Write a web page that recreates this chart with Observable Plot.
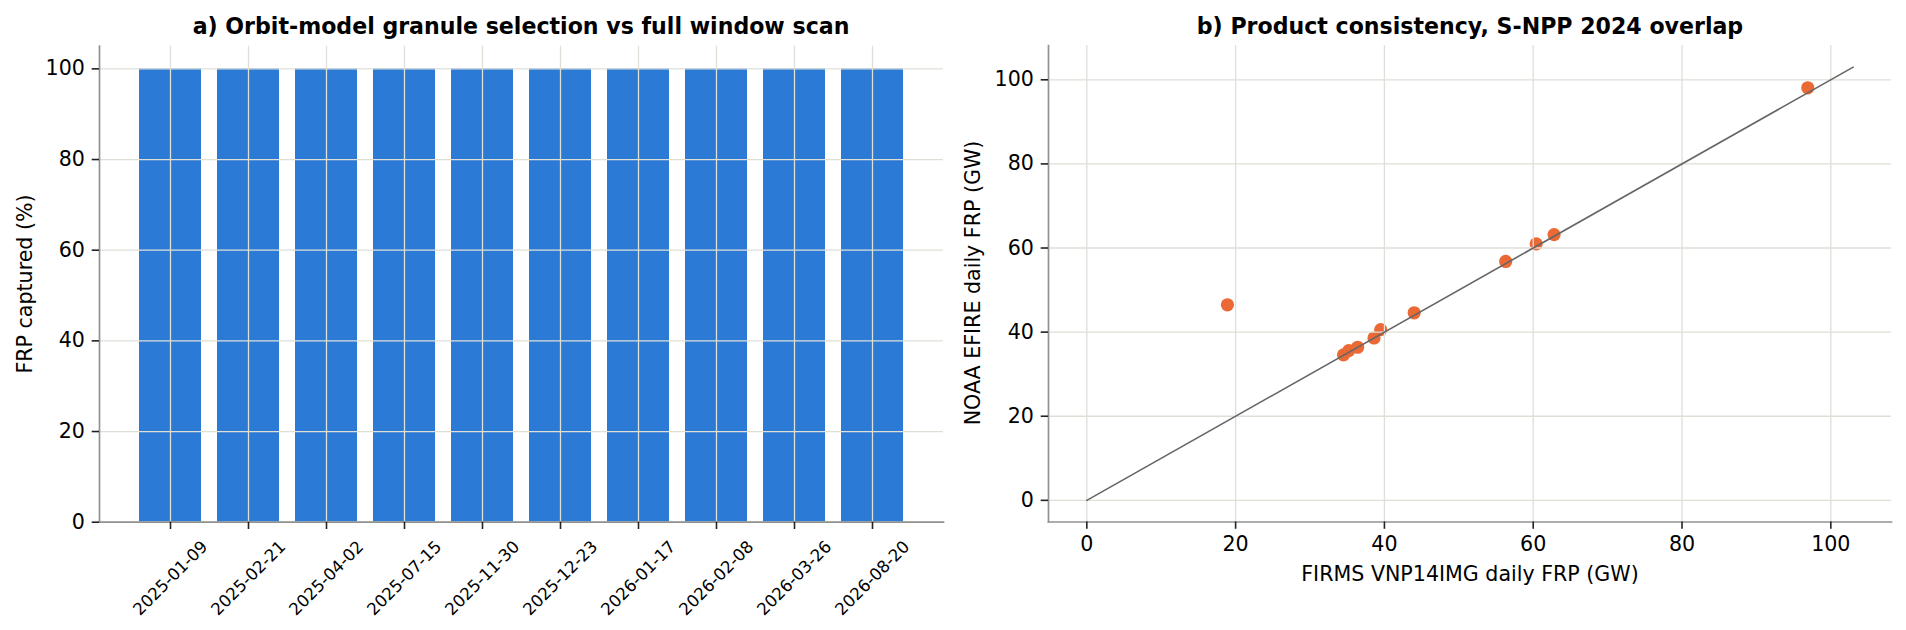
<!DOCTYPE html>
<html><head><meta charset="utf-8">
<script src="https://cdn.jsdelivr.net/npm/d3@7"></script>
<script src="https://cdn.jsdelivr.net/npm/@observablehq/plot@0.6"></script>
<style>
body{margin:0;background:#fff;}
#wrap{position:relative;width:1906px;height:630px;font-family:"DejaVu Sans",sans-serif;color:#000;overflow:hidden;}
.p{position:absolute;top:0;}
.lbl{position:absolute;white-space:nowrap;transform:translate(-50%,-50%);line-height:1;}
.ttl{font-weight:bold;font-size:22.1px;}
.ax{font-size:20.6px;}
.rot{transform:translate(-50%,-50%) rotate(-90deg);}
</style></head><body><div id="wrap"></div>
<script>
// ---- data ----
const dates = ["2025-01-09","2025-02-21","2025-04-02","2025-07-15","2025-11-30","2025-12-23","2026-01-17","2026-02-08","2026-03-26","2026-08-20"];
const captured = [100,100,100,100,100,100,100,100,100,100];
const yTicksA = [0,20,40,60,80,100];
const firms = [18.9, 34.5, 35.2, 36.4, 38.6, 39.5, 44.0, 56.3, 60.4, 62.8, 96.9];
const noaa  = [46.5, 34.6, 35.6, 36.4, 38.6, 40.6, 44.6, 56.8, 61.0, 63.2, 98.1];
const ticksB = [0,20,40,60,80,100];

const gridC = "#dfdfd8", spineC = "#929292", tickC = "#222";
const baseStyle = {fontFamily:"DejaVu Sans", fontSize:"20.6px", color:"#000", background:"transparent", overflow:"visible"};

const barData = dates.map((d,i)=>({date:d, pct:captured[i]}));
const left = Plot.plot({
  width:953, height:630,
  marginLeft:99, marginRight:10, marginTop:45.7, marginBottom:108.3,
  style: baseStyle,
  x:{type:"band", domain:dates, paddingInner:0.2, paddingOuter:0.49, align:0.5},
  y:{domain:[0,105]},
  marks:[
    Plot.barY(barData, {x:"date", y:"pct", fill:"#2b7ad6"}),
    Plot.gridX({stroke:gridC, strokeOpacity:1, strokeWidth:1.3}),
    Plot.gridY(yTicksA, {stroke:gridC, strokeOpacity:1, strokeWidth:1.3}),
    Plot.frame({anchor:"left", stroke:spineC, strokeWidth:1.7}),
    Plot.frame({anchor:"bottom", stroke:spineC, strokeWidth:1.7}),
    Plot.axisY(yTicksA, {tickSize:7.3, tickPadding:7.3, stroke:tickC, strokeWidth:1.6, label:null}),
    Plot.axisX({tickSize:7.3, tickFormat:()=>"", stroke:tickC, strokeWidth:1.6, label:null}),
    Plot.text(dates, {x:d=>d, frameAnchor:"bottom", dy:56, rotate:-45, fontSize:16.7, textAnchor:"middle", lineAnchor:"middle"})
  ]
});

const lim = d3.max([...firms, ...noaa]) * 1.05;
const pad = lim * 0.05;
const dom = [-pad, lim + pad];
const diag = [0, lim];
const pts = firms.map((f,i)=>({f, n:noaa[i]}));
const right = Plot.plot({
  width:953, height:630,
  marginLeft:95, marginRight:15, marginTop:45, marginBottom:108.5,
  style: baseStyle,
  x:{domain:dom}, y:{domain:dom},
  marks:[
    Plot.dot(pts, {x:"f", y:"n", r:6.6, fill:"#eb6935"}),
    Plot.gridX(ticksB, {stroke:gridC, strokeOpacity:1, strokeWidth:1.3}),
    Plot.gridY(ticksB, {stroke:gridC, strokeOpacity:1, strokeWidth:1.3}),
    Plot.line(diag, {x:d=>d, y:d=>d, stroke:"#666", strokeWidth:1.6}),
    Plot.frame({anchor:"left", stroke:spineC, strokeWidth:1.7}),
    Plot.frame({anchor:"bottom", stroke:spineC, strokeWidth:1.7}),
    Plot.axisY(ticksB, {tickSize:7.3, tickPadding:7.3, stroke:tickC, strokeWidth:1.6, label:null}),
    Plot.axisX(ticksB, {tickSize:7.3, tickPadding:7.3, stroke:tickC, strokeWidth:1.6, label:null})
  ]
});

const wrap = document.getElementById("wrap");
left.classList.add("p"); left.style.left = "0px";
right.classList.add("p"); right.style.left = "953px";
wrap.appendChild(left); wrap.appendChild(right);

function lab(text, x, y, cls){
  const d = document.createElement("div");
  d.className = "lbl " + cls;
  d.textContent = text;
  d.style.left = x + "px"; d.style.top = y + "px";
  wrap.appendChild(d);
}
lab("a) Orbit-model granule selection vs full window scan", 521, 25.5, "ttl");
lab("b) Product consistency, S-NPP 2024 overlap", 1470, 25.5, "ttl");
lab("FRP captured (%)", 24.5, 283.7, "ax rot");
lab("NOAA EFIRE daily FRP (GW)", 973, 283, "ax rot");
lab("FIRMS VNP14IMG daily FRP (GW)", 1470, 574, "ax");
</script></body></html>
